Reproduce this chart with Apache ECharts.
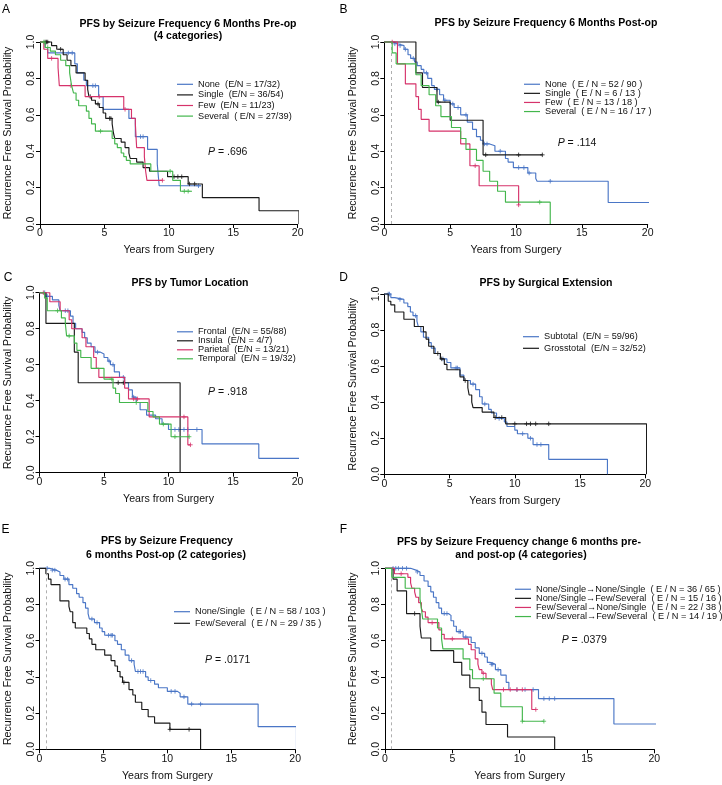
<!DOCTYPE html>
<html>
<head>
<meta charset="utf-8">
<title>PFS Kaplan-Meier panels</title>
<script src="https://cdn.jsdelivr.net/npm/echarts@6.0.0/dist/echarts.min.js"></script>
<style>
  html, body { margin: 0; padding: 0; background: #fff; }
  #chart { width: 722px; height: 785px; }
</style>
</head>
<body>
<div id="chart"></div>
<script>
// step points [years, survival], censor times separately
const xTicks = [0, 5, 10, 15, 20];
const yTicks = [0, 0.2, 0.4, 0.6, 0.8, 1.0];

// A - seizure frequency 6 months pre-op
const aNone = [[0,1],[0.4,0.97],[0.6,0.94],[2.7,0.88],[2.9,0.83],[3.4,0.79],[3.6,0.76],[4.55,0.70],[4.9,0.63],[6.9,0.58],[7.4,0.48],[8.35,0.41],[9.1,0.33],[9.25,0.21],[12.5,0.21]];
const aNoneCens = [2.2, 2.5, 4.1, 4.3, 7.8, 8.0, 12.3];
const aSingle = [[0,1],[0.9,0.98],[1.3,0.96],[1.8,0.93],[2.1,0.90],[2.4,0.87],[2.8,0.83],[3.5,0.79],[3.7,0.74],[3.8,0.70],[4.0,0.68],[4.3,0.66],[4.6,0.64],[4.9,0.61],[5.1,0.58],[5.6,0.55],[5.7,0.50],[5.8,0.47],[6.3,0.45],[6.6,0.42],[6.9,0.39],[7.0,0.36],[7.5,0.34],[8.0,0.31],[8.5,0.29],[9.9,0.26],[11.5,0.22],[12.6,0.145],[17.0,0.073],[20.1,0]];
const aSingleCens = [0.4, 0.5, 0.6, 1.6, 3.9, 4.5, 5.4, 5.5, 10.4, 10.7, 11.0, 11.6, 12.0];
const aFew = [[0,1],[0.3,0.96],[0.6,0.91],[1.4,0.86],[1.5,0.76],[3.5,0.70],[6.5,0.63],[7.1,0.58],[7.4,0.55],[7.5,0.42],[8.1,0.37],[8.2,0.29],[8.3,0.24],[9.5,0.24]];
const aFewCens = [0.9, 2.4, 4.6, 6.6, 9.5];
const aSeveral = [[0,1],[0.4,0.97],[0.8,0.95],[1.2,0.93],[1.6,0.90],[2.0,0.87],[2.3,0.83],[2.45,0.76],[2.6,0.72],[2.8,0.68],[3.0,0.65],[3.6,0.62],[3.8,0.58],[4.0,0.55],[4.3,0.51],[5.6,0.47],[5.8,0.44],[6.0,0.42],[6.3,0.39],[6.5,0.37],[6.7,0.35],[7.0,0.33],[8.6,0.29],[10.3,0.24],[10.9,0.18],[11.8,0.18]];
const aSeveralCens = [0.3, 0.6, 4.7, 10.1, 11.2, 11.5];

// B - seizure frequency 6 months post-op
const bNone = [[0,1],[0.6,0.99],[1.0,0.98],[1.5,0.96],[1.8,0.93],[2.0,0.91],[2.3,0.89],[2.5,0.87],[2.8,0.85],[3.0,0.83],[3.3,0.80],[3.6,0.76],[3.8,0.74],[4.2,0.71],[4.5,0.68],[5.0,0.66],[5.3,0.64],[5.8,0.60],[6.3,0.56],[6.7,0.52],[7.0,0.48],[7.3,0.46],[7.5,0.44],[8.0,0.43],[8.4,0.40],[9.2,0.36],[9.4,0.34],[9.8,0.31],[10.9,0.28],[11.5,0.25],[11.6,0.235],[17.0,0.118],[20.2,0]];
const bNoneCens = [0.8, 1.2, 1.6, 2.2, 3.2, 4.0, 4.6, 5.2, 5.6, 6.2, 7.6, 7.8, 8.8, 10.2, 10.6, 11.0, 12.6];
const bSingle = [[0,1],[2.4,0.83],[2.9,0.75],[4.0,0.67],[5.0,0.57],[7.5,0.38],[12.0,0.38]];
const bSingleCens = [4.1, 7.7, 10.2, 12.0];
const bFew = [[0,1],[1.0,0.88],[1.6,0.77],[2.4,0.70],[2.6,0.63],[2.8,0.575],[3.4,0.51],[5.8,0.44],[6.5,0.32],[7.2,0.21],[10.2,0.105]];
const bFewCens = [0.6, 6.9, 10.2];
const bSeveral = [[0,1],[0.6,0.94],[0.9,0.88],[2.4,0.82],[2.8,0.76],[3.4,0.71],[3.9,0.65],[4.3,0.59],[5.1,0.53],[5.8,0.47],[6.2,0.41],[7.0,0.35],[7.5,0.29],[8.0,0.235],[8.6,0.18],[9.2,0.12],[12.6,0]];
const bSeveralCens = [11.8];

// C - tumor location
const cFrontal = [[0,1],[0.5,0.98],[1.0,0.96],[1.5,0.93],[1.6,0.90],[2.4,0.87],[2.6,0.83],[2.8,0.80],[3.3,0.78],[3.5,0.75],[3.7,0.72],[4.0,0.70],[4.3,0.67],[4.7,0.66],[5.0,0.64],[5.3,0.62],[5.5,0.60],[5.8,0.56],[6.2,0.53],[6.6,0.50],[6.9,0.46],[7.2,0.42],[7.5,0.39],[7.8,0.35],[8.3,0.32],[9.0,0.30],[9.5,0.27],[10.0,0.24],[12.6,0.16],[17.0,0.08],[20.2,0]];
const cFrontalCens = [0.4, 0.6, 2.0, 2.2, 4.5, 5.4, 5.7, 6.5, 7.3, 10.5, 10.8, 11.2, 11.5, 12.2];
const cInsula = [[0,1],[0.5,0.83],[2.7,0.67],[3.0,0.50],[10.9,0]];
const cInsulaCens = [6.1, 6.5];
const cParietal = [[0,1],[0.8,0.95],[1.6,0.90],[2.3,0.85],[2.5,0.80],[3.3,0.75],[3.6,0.70],[4.2,0.64],[4.4,0.58],[4.6,0.53],[6.6,0.47],[6.9,0.41],[8.5,0.31],[11.5,0.155],[11.7,0.155]];
const cParietalCens = [0.3, 7.3, 7.6, 11.2, 11.7];
const cTemporal = [[0,1],[0.4,0.97],[0.6,0.90],[1.7,0.86],[2.0,0.83],[2.1,0.76],[2.7,0.72],[2.9,0.68],[3.2,0.64],[4.0,0.58],[5.0,0.52],[5.7,0.47],[5.9,0.44],[6.2,0.39],[8.4,0.34],[8.8,0.31],[9.3,0.27],[10.2,0.20],[11.6,0.20]];
const cTemporalCens = [1.4, 2.3, 5.6, 7.5, 9.6, 10.5, 11.6];

// D - surgical extension
const dSubtotal = [[0,1],[0.5,0.98],[0.8,0.97],[1.5,0.95],[1.8,0.93],[2.0,0.90],[2.2,0.88],[2.5,0.85],[2.6,0.82],[2.8,0.79],[3.0,0.76],[3.4,0.73],[3.6,0.70],[3.9,0.67],[4.3,0.64],[4.8,0.62],[5.1,0.59],[5.8,0.55],[6.1,0.52],[6.6,0.50],[7.0,0.47],[7.3,0.43],[7.5,0.39],[8.0,0.36],[8.2,0.34],[8.6,0.31],[9.2,0.29],[9.4,0.265],[10.0,0.245],[10.2,0.225],[11.0,0.20],[11.4,0.165],[12.6,0.083],[17.1,0]];
const dSubtotalCens = [0.3, 0.4, 1.2, 2.4, 4.5, 5.5, 5.6, 6.8, 7.7, 8.8, 10.6, 11.2, 11.7, 12.0];
const dGross = [[0,1],[0.3,0.96],[0.5,0.94],[0.8,0.90],[1.5,0.86],[2.3,0.82],[3.0,0.79],[3.2,0.75],[3.4,0.71],[3.8,0.67],[4.3,0.64],[4.6,0.61],[4.8,0.58],[5.8,0.54],[6.1,0.52],[6.4,0.48],[6.5,0.44],[6.7,0.40],[6.8,0.37],[7.5,0.345],[8.4,0.315],[9.3,0.28],[20.1,0]];
const dGrossCens = [4.1, 4.4, 6.2, 8.5, 9.0, 10.0, 10.9, 11.2, 11.6, 12.6];

// E - 6 months post-op, 2 categories
const eNone = [[0,1],[0.8,0.99],[1.3,0.98],[1.6,0.96],[1.9,0.94],[2.3,0.91],[2.6,0.89],[2.9,0.86],[3.1,0.84],[3.4,0.81],[3.6,0.78],[3.8,0.75],[3.9,0.72],[4.3,0.70],[4.7,0.67],[4.9,0.65],[5.1,0.63],[5.9,0.60],[6.1,0.58],[6.4,0.55],[6.7,0.52],[7.0,0.49],[7.4,0.47],[7.5,0.43],[8.3,0.40],[8.5,0.38],[9.0,0.36],[9.3,0.34],[10.0,0.32],[10.8,0.31],[11.0,0.29],[11.6,0.25],[17.1,0.125],[20.1,0]];
const eNoneCens = [0.6, 1.0, 1.2, 2.0, 2.2, 4.1, 4.5, 5.4, 5.6, 5.7, 7.2, 7.7, 7.9, 8.1, 8.7, 10.3, 10.6, 11.3, 11.9, 12.6];
const eFew = [[0,1],[0.5,0.97],[0.7,0.94],[0.9,0.91],[1.6,0.82],[2.3,0.79],[2.4,0.76],[2.6,0.70],[2.8,0.67],[3.7,0.64],[3.9,0.61],[4.1,0.58],[4.4,0.55],[5.1,0.52],[5.6,0.49],[5.9,0.46],[6.1,0.43],[6.3,0.40],[6.5,0.37],[7.0,0.33],[7.3,0.30],[7.5,0.26],[8.0,0.22],[8.5,0.18],[9.0,0.145],[10.2,0.11],[12.6,0]];
const eFewCens = [6.6, 10.2, 11.7];

// F - change pre/post-op, 4 categories
const fNN = [[0,1],[1.9,0.99],[2.3,0.98],[2.6,0.96],[2.9,0.93],[3.2,0.90],[3.4,0.87],[3.6,0.84],[3.8,0.81],[4.0,0.78],[4.2,0.75],[4.7,0.74],[4.9,0.71],[5.1,0.68],[5.3,0.65],[5.8,0.62],[6.4,0.59],[6.7,0.56],[7.0,0.53],[7.4,0.51],[7.6,0.48],[7.8,0.47],[8.2,0.44],[8.6,0.41],[9.0,0.37],[9.2,0.33],[11.4,0.28],[17.0,0.14],[20.2,0]];
const fNNCens = [0.6, 0.8, 1.0, 1.3, 1.6, 2.4, 4.4, 4.6, 5.5, 5.6, 6.0, 7.2, 7.9, 8.0, 8.4, 9.8, 10.4, 11.0, 11.8, 12.2, 12.6];
const fNF = [[0,1],[0.6,0.94],[0.9,0.875],[1.6,0.75],[2.6,0.68],[2.7,0.615],[3.4,0.545],[5.1,0.48],[5.7,0.41],[6.3,0.34],[7.0,0.27],[7.2,0.205],[7.5,0.137],[9.1,0.068],[12.6,0]];
const fNFCens = [2.2];
const fFN = [[0,1],[0.7,0.97],[1.7,0.95],[1.9,0.92],[2.0,0.89],[2.2,0.87],[2.3,0.84],[2.5,0.81],[2.7,0.78],[2.8,0.76],[3.0,0.73],[3.2,0.70],[4.0,0.66],[4.2,0.635],[4.4,0.61],[6.2,0.58],[6.4,0.55],[6.7,0.50],[6.9,0.47],[7.0,0.44],[7.2,0.42],[7.5,0.39],[7.9,0.36],[8.0,0.33],[10.9,0.22],[11.2,0.22]];
const fFNCens = [1.2, 3.5, 5.0, 7.3, 8.8, 9.3, 9.8, 10.2, 11.2];
const fFF = [[0,1],[0.5,0.95],[1.5,0.89],[2.6,0.83],[2.7,0.78],[2.8,0.72],[3.9,0.67],[4.2,0.61],[4.3,0.555],[5.8,0.50],[6.3,0.44],[6.5,0.39],[8.1,0.31],[8.6,0.235],[10.2,0.155],[11.8,0.155]];
const fFFCens = [7.3, 10.2, 11.8];

const pValues = ['.696', '.114', '.918', null, '.0171', '.0379'];

const BLUE = '#4a76c6', BLACK = '#1a1a1a', RED = '#d6336b', GREEN = '#43b64c';
const FONT = '"Liberation Sans", Arial, Helvetica, sans-serif';
const CROSS = 'path://M2,0L2,4M0,2L4,2';

function survAt(steps, t) {
    let s = 1;
    for (const p of steps) {
        if (p[0] <= t) s = p[1]; else break;
    }
    return s;
}

const panels = [
    {
        grid: {left: 40, top: 42, width: 257.7, height: 182},
        legend: {left: 177, top: 79, gap: 10.6},
        pos: {x: 208, y: 151.7}, dashed: false,
        curves: [
            {name: 'None  (E/N = 17/32)', steps: aNone, cens: aNoneCens, color: BLUE},
            {name: 'Single  (E/N = 36/54)', steps: aSingle, cens: aSingleCens, color: BLACK},
            {name: 'Few  (E/N = 11/23)', steps: aFew, cens: aFewCens, color: RED},
            {name: 'Several  ( E/N = 27/39)', steps: aSeveral, cens: aSeveralCens, color: GREEN}
        ]
    },
    {
        grid: {left: 384.3, top: 42, width: 263.4, height: 182},
        legend: {left: 524, top: 79.7, gap: 9.1},
        pos: {x: 557.7, y: 142.7}, dashed: true,
        curves: [
            {name: 'None  ( E / N = 52 / 90 )', steps: bNone, cens: bNoneCens, color: BLUE},
            {name: 'Single  ( E / N = 6 / 13 )', steps: bSingle, cens: bSingleCens, color: BLACK},
            {name: 'Few  ( E / N = 13 / 18 )', steps: bFew, cens: bFewCens, color: RED},
            {name: 'Several  ( E / N = 16 / 17 )', steps: bSeveral, cens: bSeveralCens, color: GREEN}
        ]
    },
    {
        grid: {left: 39.5, top: 292.7, width: 258, height: 180},
        legend: {left: 177, top: 327.3, gap: 8.7},
        pos: {x: 208, y: 391.7}, dashed: false,
        curves: [
            {name: 'Frontal  (E/N = 55/88)', steps: cFrontal, cens: cFrontalCens, color: BLUE},
            {name: 'Insula  (E/N = 4/7)', steps: cInsula, cens: cInsulaCens, color: BLACK},
            {name: 'Parietal  (E/N = 13/21)', steps: cParietal, cens: cParietalCens, color: RED},
            {name: 'Temporal  (E/N = 19/32)', steps: cTemporal, cens: cTemporalCens, color: GREEN}
        ]
    },
    {
        grid: {left: 384.3, top: 294, width: 261, height: 180.3},
        legend: {left: 523, top: 330.9, gap: 11.6},
        pos: null, dashed: false,
        curves: [
            {name: 'Subtotal  (E/N = 59/96)', steps: dSubtotal, cens: dSubtotalCens, color: BLUE},
            {name: 'Grosstotal  (E/N = 32/52)', steps: dGross, cens: dGrossCens, color: BLACK}
        ]
    },
    {
        grid: {left: 39.5, top: 568.3, width: 255.7, height: 181},
        legend: {left: 174, top: 605.9, gap: 11.6},
        pos: {x: 205, y: 660}, dashed: true,
        curves: [
            {name: 'None/Single  ( E / N = 58 / 103 )', steps: eNone, cens: eNoneCens, color: BLUE},
            {name: 'Few/Several  ( E / N = 29 / 35 )', steps: eFew, cens: eFewCens, color: BLACK}
        ]
    },
    {
        grid: {left: 385, top: 568.3, width: 269.3, height: 181},
        legend: {left: 515, top: 584.7, gap: 9.1},
        pos: {x: 561.7, y: 640}, dashed: true,
        curves: [
            {name: 'None/Single\u2192None/Single  ( E / N = 36 / 65 )', steps: fNN, cens: fNNCens, color: BLUE},
            {name: 'None/Single\u2192Few/Several  ( E / N = 15 / 16 )', steps: fNF, cens: fNFCens, color: BLACK},
            {name: 'Few/Several\u2192None/Single  ( E / N = 22 / 38 )', steps: fFN, cens: fFNCens, color: RED},
            {name: 'Few/Several\u2192Few/Several  ( E / N = 14 / 19 )', steps: fFF, cens: fFFCens, color: GREEN}
        ]
    }
];

// titles and panel letters
const titles = [
    {text: 'PFS by Seizure Frequency 6 Months Pre-op', x: 188, y: 24},
    {text: '(4 categories)', x: 188, y: 36},
    {text: 'PFS by Seizure Frequency 6 Months Post-op', x: 546, y: 23.3},
    {text: 'PFS by Tumor Location', x: 190, y: 283.3},
    {text: 'PFS by Surgical Extension', x: 546, y: 283.3},
    {text: 'PFS by Seizure Frequency', x: 167, y: 541},
    {text: '6 months Post-op (2 categories)', x: 166, y: 555},
    {text: 'PFS by Seizure Frequency change 6 months pre-', x: 519, y: 542.3},
    {text: 'and post-op (4 categories)', x: 521, y: 555}
];
const letters = [
    {text: 'A', x: 6, y: 9.3}, {text: 'B', x: 343.5, y: 9.3},
    {text: 'C', x: 8, y: 277.7}, {text: 'D', x: 343.5, y: 277.7},
    {text: 'E', x: 5.5, y: 529.3}, {text: 'F', x: 343.5, y: 529.3}
];

const option = {
    animation: false,
    backgroundColor: '#fff',
    grid: [], xAxis: [], yAxis: [], legend: [], series: [], graphic: []
};

panels.forEach((p, i) => {
    option.grid.push(p.grid);
    option.xAxis.push({
        type: 'value', gridIndex: i, min: xTicks[0], max: xTicks[xTicks.length - 1], interval: 5,
        name: 'Years from Surgery', nameLocation: 'middle', nameGap: 21,
        nameTextStyle: {fontSize: 10.6, color: '#111', fontFamily: FONT},
        axisLine: {lineStyle: {color: '#000', width: 1}},
        axisTick: {length: 4, lineStyle: {color: '#000', width: 1}},
        axisLabel: {margin: 4, fontSize: 10.5, color: '#111', fontFamily: FONT},
        splitLine: {show: false}
    });
    option.yAxis.push({
        type: 'value', gridIndex: i, min: yTicks[0], max: yTicks[yTicks.length - 1], interval: 0.2,
        name: 'Recurrence Free Survival Probability', nameLocation: 'middle', nameGap: 26, nameRotate: 90,
        nameTextStyle: {fontSize: 10.6, color: '#111', fontFamily: FONT},
        axisLine: {show: true, lineStyle: {color: '#000', width: 1}},
        axisTick: {show: true, length: 4, lineStyle: {color: '#000', width: 1}},
        axisLabel: {margin: 3, rotate: 90, fontSize: 10.5, color: '#111', fontFamily: FONT,
            formatter: v => v.toFixed(1)},
        splitLine: {show: false}
    });
    p.curves.forEach((c, k) => {
        const line = {
            type: 'line', name: c.name, xAxisIndex: i, yAxisIndex: i,
            data: c.steps, step: 'end', symbol: 'none', showSymbol: false, clip: false,
            lineStyle: {color: c.color, width: 1.15}, itemStyle: {color: c.color},
            z: 3 + k
        };
        if (k === 0 && p.dashed) {
            line.markLine = {
                silent: true, symbol: ['none', 'none'], label: {show: false},
                lineStyle: {color: '#9a9a9a', type: [3, 3], width: 0.8},
                data: [{xAxis: 0.5}]
            };
        }
        option.series.push(line);
        option.series.push({
            type: 'scatter', name: c.name + ' censored', xAxisIndex: i, yAxisIndex: i,
            data: c.cens.map(t => [t, survAt(c.steps, t)]),
            symbol: CROSS, symbolSize: 4.5, clip: false, silent: true,
            itemStyle: {color: c.color, borderColor: c.color, borderWidth: 1},
            z: 3 + k
        });
    });
    option.legend.push({
        data: p.curves.map(c => c.name), orient: 'vertical',
        left: p.legend.left, top: p.legend.top, padding: 0, itemGap: 0,
        itemWidth: 16, itemHeight: 1.2, icon: 'rect', selectedMode: false,
        textStyle: {fontSize: 9.2, lineHeight: p.legend.gap, color: '#111', fontFamily: FONT}
    });
    if (p.pos) {
        option.graphic.push({
            type: 'text', x: p.pos.x, y: p.pos.y,
            style: {
                text: '{i|P} = ' + pValues[i], fill: '#111', fontSize: 10.5, fontFamily: FONT,
                verticalAlign: 'middle', align: 'left',
                rich: {i: {fontStyle: 'italic', fontSize: 10.5, fontFamily: FONT, fill: '#111'}}
            }
        });
    }
});

titles.forEach(t => {
    option.graphic.push({
        type: 'text', x: t.x, y: t.y,
        style: {text: t.text, fill: '#000', fontSize: 10.5, fontWeight: 'bold', fontFamily: FONT,
            align: 'center', verticalAlign: 'middle'}
    });
});
letters.forEach(t => {
    option.graphic.push({
        type: 'text', x: t.x, y: t.y,
        style: {text: t.text, fill: '#000', fontSize: 12, fontFamily: FONT,
            align: 'center', verticalAlign: 'middle'}
    });
});

const chart = echarts.init(document.getElementById('chart'));
chart.setOption(option);
</script>
</body>
</html>
